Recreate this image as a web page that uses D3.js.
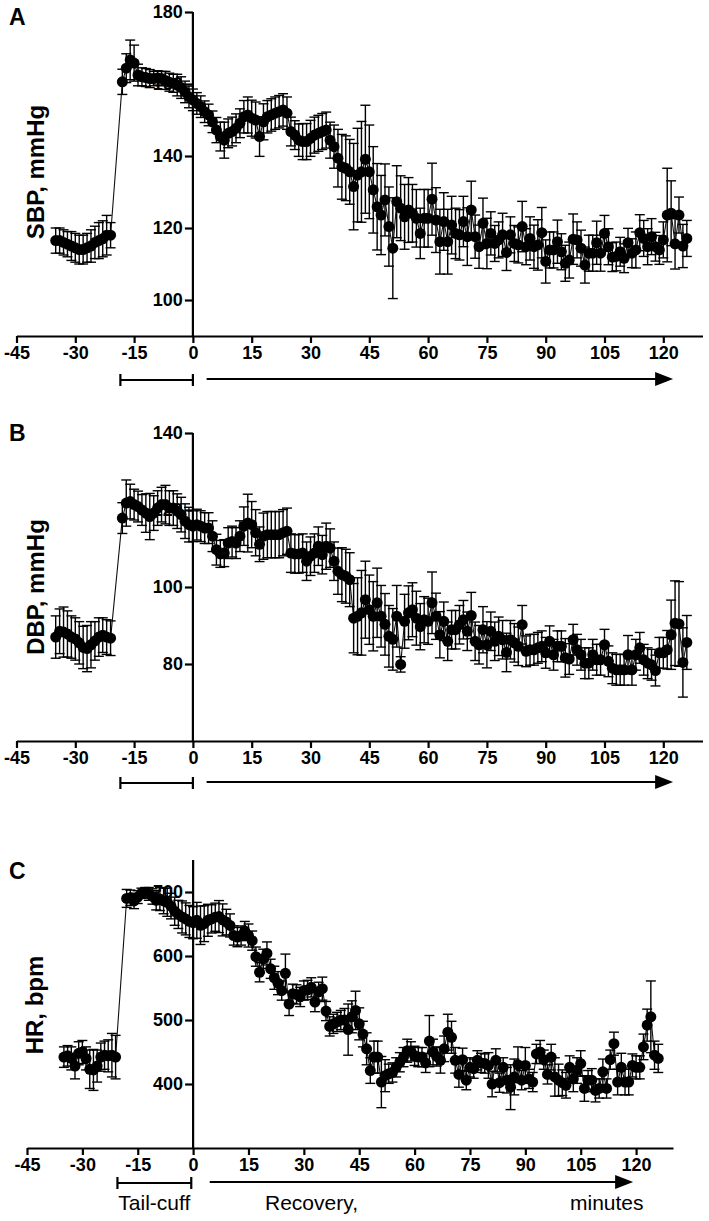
<!DOCTYPE html>
<html>
<head>
<meta charset="utf-8">
<script src="https://cdn.jsdelivr.net/npm/d3@7"></script>
<style>
  html, body { margin: 0; padding: 0; background: #ffffff; }
  svg { display: block; }
  text { font-family: "Liberation Sans", Arial, Helvetica, sans-serif; fill: #000; }
</style>
</head>
<body>
<svg id="chart" width="709" height="1221"></svg>
<script>
// ---------- time points (minutes) ----------
const baselineMinutes = d3.range(-35, -20);   // -35 .. -21
const tailCuffMinutes = d3.range(-18, 1);     // -18 .. 0
const recoveryMinutes = d3.range(1, 127);     // 1 .. 126
const xTickValues = [-45, -30, -15, 0, 15, 30, 45, 60, 75, 90, 105, 120];

// ---------- A: SBP, mmHg ----------
const sbpBaseline = [116.5,116.5,116,115.5,115,114.5,114,114,114.5,115,116,116.5,117,118,118];
const sbpTailCuff = [160.6,164.4,166.7,165.8,162.5,162,161.8,161.5,161.5,161.7,161.5,161,160.5,160.2,159.7,159,157.8,156.4,155.6];
const sbpRecovery = [
  154.6,153.7,152.3,151.4,149.5,147.2,145.4,144.4,146.3,146.8,
  147.7,149.1,150.9,151.4,150.5,150,145.4,149.5,150.9,151.4,
  151.9,152.3,152.8,151.9,146.8,145.8,144.4,144,144,144.9,
  145.8,146.3,146.8,147.2,144.4,142.6,139.4,137,136.6,135.6,
  131.5,134.7,135.6,139.1,135.6,130.6,125.9,123.6,127.8,120.4,
  114.4,127.3,125.5,123.1,125,124.1,122.7,118.5,122.7,122.7,
  128,122.2,116.2,121.8,116.2,120.8,118.5,118.1,121.8,117.6,
  125,117.6,114.8,121.3,115.7,118.5,115.7,116.7,118.1,113.2,
  118.1,115.7,115.3,120.4,114.8,117.1,114.8,115.3,118.7,110.7,
  113.9,113.9,116.2,113.4,110.2,111.1,116.9,116.7,114.4,109.7,
  113,113,115.9,113,118.5,114.8,111.9,112.1,113.4,111.6,
  115.9,113,113.9,118.7,117.1,114.8,117.6,114.8,113.9,116.7,
  123.6,124.1,115.6,123.6,115,117.1];
const sbpErrBaseline = [3.5,3.5,3.5,3.5,4,4,4,4,4,4.5,4.5,5,5,5.5,3.5];
const sbpErrTailCuff = [3.5,4,5.5,5,3,2.5,2.5,2.5,2,2,2,2.5,2.5,2.5,3,3,3,3,3];
const sbpErrRecovery = [
  3,3,3,3,3,3.5,4,5,4,4,
  4,4,4.5,5,5,5,5.5,5,4.5,4.5,
  4.5,4.5,4.5,4.5,4,4,4.5,5,5,5,
  5,5,5,5,5,6,8,9,9,9,
  12,13,14,15,13,12,12,11,10,11,
  14,10,9,9,9,8,8,7,8,8,
  10,9,9,8,9,8,7,7,7,8,
  8,6,6,7,7,6,5,5,6,5,
  5,5,5,7,5,6,6,7,7,6,
  5,5,6,5,5,5,7,5,5,5,
  5,5,6,5,5,5,4,4,4,4,
  4,4,5,5,5,5,5,4,4,5,
  13,9,7,5,6,5];

// ---------- B: DBP, mmHg ----------
const dbpBaseline = [87,88.5,88.3,87.8,87,86.5,85.5,84.3,84,85,86,87,87.5,87,86.7];
const dbpTailCuff = [117.9,121.8,122.2,121.4,120.9,120,119.2,118.3,119.2,120.5,121.4,121.4,120.5,120.5,119.7,118.8,117.1,116.2,115.8];
const dbpRecovery = [
  116.2,115.8,115.3,115.3,113.2,109.7,108.6,108.8,111.4,111.8,
  111.4,113.2,115.8,116.6,116.2,114.1,111.1,113.2,113.6,113.6,
  113.6,113.6,114.1,114.5,108.8,108.6,108.6,108.8,106.7,108,
  108.8,110.6,108.4,110.6,110.1,106.7,104.1,103.2,102.8,101.9,
  91.9,92.4,93.3,96.7,94.1,92.4,95.9,92.4,90.3,87.2,
  86.4,92.4,79.9,91.1,93.3,94.1,91.9,89.7,91.5,91.1,
  95.9,92.4,87.6,91.1,85.9,88.9,88.9,90.2,91.5,88.5,
  92.6,85.9,85,88.9,85,88.5,85.9,87.2,86.3,83,
  86.3,85.5,84.6,90.2,83.3,83.7,83.7,84.2,84.6,82.9,
  85.9,82.4,84.6,84.6,81.6,81.3,86.3,83.7,82.4,80.2,
  80.2,82.4,81.1,81.1,85,80.7,78.9,78.5,78.5,78.5,
  82.4,78.5,82.4,84.2,81.1,80.2,79.8,78.3,82.9,82.9,
  83.7,87.6,90.6,90.4,80.4,85.6];
const dbpErrBaseline = [5.5,5.8,6.5,6,5.5,5.5,5.5,5.5,6,6,5,5,4.5,4.5,4.5];
const dbpErrTailCuff = [4,6,4.5,4,4,4,5,6,4.5,4.5,4.5,5,4.5,4.5,4.5,4.5,4.5,4.5,4];
const dbpErrRecovery = [
  4,4,4,4,4,4,3.5,3.5,4,4,
  4,4,5,7.5,6,6,4.5,6,6,6,
  6,6,6,6,5,5,5,5,5,5,
  5,5,5,6,5,5,6,7,7,7,
  9,10,11,10,9,9,9,8,8,8,
  8,8,2,7,7,7,7,6,6,6,
  8,6,6,5,5,5,5,5,5,5,
  6,5,5,6,6,5,5,5,5,5,
  5,5,5,5,4,4,4,4,4,4,
  4,4,4,4,5,4,4,4,4,4,
  4,4,4,4,4,4,4,4,4,4,
  5,4,4,4,4,4,4,4,4,4,
  5,9,11,11,9,7];

// ---------- C: HR, bpm ----------
const hrBaseline = [442,444,440,428,448,450,440,423,422,428,442,445,444,445,442];
const hrTailCuff = [690,691,686,692,698,699,697,693,687,689,686,684,678,670,665,661,658,654,652];
const hrRecovery = [
  655.8,648,650.5,655.8,658,660.6,661.6,656.4,653,647.8,
  632,629.5,632,639,632,624,599,574.6,595.6,604,
  580,566,557.6,546,573,525,541,540,536,546,
  547,551,528,544,549,514,490,494,497,500,
  500,485,505,515,494,478,455,421,442,442,
  403,413,416,418,426,434,442,452,451,444,
  442,442,433,467,450,443,437,455,481,473,
  437,415,438,406,426,424,437,433,432,429,
  400,437,402,426,406,395,411,430,406,429,
  408,403,447,450,438,415,442,411,406,402,
  398,426,408,421,432,393,406,406,390,393,
  419,393,438,463,403,426,403,403,429,426,
  426,458,492,505,445,440];
const hrErrBaseline = [16,16,18,20,18,18,18,30,32,25,22,22,25,34,34];
const hrErrTailCuff = [14,12,12,10,8,8,10,12,15,18,20,22,20,22,22,25,25,25,25];
const hrErrRecovery = [
  28,30,28,25,22,22,25,25,20,18,
  15,15,15,15,18,15,15,15,15,18,
  15,18,18,15,30,18,15,15,15,15,
  15,15,15,15,18,15,15,15,15,15,
  18,40,25,30,25,20,25,20,25,25,
  40,25,15,15,15,15,15,18,15,15,
  15,15,15,40,20,15,20,20,28,25,
  20,20,18,15,15,15,15,15,15,20,
  20,18,15,15,20,35,28,28,15,28,
  15,15,15,18,15,15,20,30,25,20,
  20,18,20,20,20,20,15,18,18,15,
  20,15,15,18,20,22,20,20,18,18,
  18,20,25,56,22,22];

// ---------- tick labels / annotations ----------
const sbpTicks = [100, 120, 140, 160, 180];
const dbpTicks = [80, 100, 120, 140];
const hrTicks = [400, 500, 600, 700];
const phaseLabels = ["Tail-cuff", "Recovery,", "minutes"];

// ---------- helper ----------
function series(base, tail, rec, eb, et, er) {
  const t = baselineMinutes.concat(tailCuffMinutes, recoveryMinutes);
  const v = base.concat(tail, rec);
  const e = eb.concat(et, er);
  return t.map((m, i) => ({ t: m, v: v[i], e: e[i] }));
}

const panels = [
  { letter: "A", label: "SBP, mmHg", data: series(sbpBaseline, sbpTailCuff, sbpRecovery, sbpErrBaseline, sbpErrTailCuff, sbpErrRecovery),
    yDomain: [90, 180], yRange: [336, 12], yTop: 180, ticks: sbpTicks,
    xRange: [16.5, 702.5], letterPos: [9, 25], labelPos: [44, 172],
    bracketY: 380, tail: [-18.5, 0], arrow: [3.5, 122.5], showText: false },
  { letter: "B", label: "DBP, mmHg", data: series(dbpBaseline, dbpTailCuff, dbpRecovery, dbpErrBaseline, dbpErrTailCuff, dbpErrRecovery),
    yDomain: [60, 140], yRange: [741, 433], yTop: 140, ticks: dbpTicks,
    xRange: [16.5, 702.5], letterPos: [9, 441], labelPos: [44, 587],
    bracketY: 783, tail: [-18.5, 0], arrow: [3.5, 122.5], showText: false },
  { letter: "C", label: "HR, bpm", data: series(hrBaseline, hrTailCuff, hrRecovery, hrErrBaseline, hrErrTailCuff, hrErrRecovery),
    yDomain: [300, 750], yRange: [1148, 860], yTop: 750, ticks: hrTicks,
    xRange: [27, 673], letterPos: [9, 879], labelPos: [43, 1005],
    bracketY: 1183, tail: [-20.5, -0.5], arrow: [4.5, 119.2], showText: true }
];

const svg = d3.select("#chart");
svg.append("rect").attr("width", 709).attr("height", 1221).attr("fill", "#fff");
const FONT = "'Liberation Sans', Arial, sans-serif";

panels.forEach(p => {
  const x = d3.scaleLinear().domain([-45, 130]).range(p.xRange);
  const y = d3.scaleLinear().domain(p.yDomain).range(p.yRange);
  const g = svg.append("g");
  const x0 = x(0);
  const yBase = y(p.yDomain[0]);

  // panel letter
  g.append("text").attr("x", p.letterPos[0]).attr("y", p.letterPos[1])
    .attr("font-size", 23).attr("font-weight", "bold").text(p.letter);

  // y label
  g.append("text").attr("transform", `translate(${p.labelPos[0]},${p.labelPos[1]}) rotate(-90)`)
    .attr("text-anchor", "middle").attr("font-size", 24).attr("font-weight", "bold").text(p.label);

  // x axis
  const xAxis = d3.axisBottom(x).tickValues(xTickValues).tickFormat(d => String(d))
    .tickSize(7).tickPadding(3).tickSizeOuter(0);
  const xg = g.append("g").attr("transform", `translate(0,${yBase})`).call(xAxis);
  xg.select(".domain").attr("stroke", "#000").attr("stroke-width", 2.2);
  xg.selectAll(".tick line").attr("stroke", "#000").attr("stroke-width", 2.2);
  xg.selectAll(".tick text").attr("font-size", 18).attr("font-weight", "bold")
    .attr("font-family", FONT).attr("fill", "#000");

  // y axis at t = 0
  const ya = d3.axisLeft(y).tickValues(p.ticks).tickFormat(d => String(d))
    .tickSize(8).tickPadding(2).tickSizeOuter(0);
  const yg = g.append("g").attr("transform", `translate(${x0},0)`).call(ya);
  yg.select(".domain").remove();
  yg.append("line").attr("x1", 0).attr("x2", 0).attr("y1", yBase).attr("y2", y(p.yTop))
    .attr("stroke", "#000").attr("stroke-width", 2.2);
  yg.selectAll(".tick line").attr("stroke", "#000").attr("stroke-width", 2.2);
  yg.selectAll(".tick text").attr("font-size", 18).attr("font-weight", "bold")
    .attr("font-family", FONT).attr("fill", "#000");

  // connecting line
  const line = d3.line().x(d => x(d.t)).y(d => y(d.v));
  g.append("path").datum(p.data).attr("d", line).attr("fill", "none")
    .attr("stroke", "#111").attr("stroke-width", 1.1);

  // error bars
  const eg = g.append("g").attr("stroke", "#000").attr("stroke-width", 1.4);
  const cap = 5;
  p.data.forEach(d => {
    const cx = x(d.t), yt = y(d.v + d.e), yb = y(d.v - d.e);
    eg.append("line").attr("x1", cx).attr("x2", cx).attr("y1", yt).attr("y2", yb);
    eg.append("line").attr("x1", cx - cap).attr("x2", cx + cap).attr("y1", yt).attr("y2", yt);
    eg.append("line").attr("x1", cx - cap).attr("x2", cx + cap).attr("y1", yb).attr("y2", yb);
  });

  // points
  g.append("g").selectAll("circle").data(p.data).join("circle")
    .attr("cx", d => x(d.t)).attr("cy", d => y(d.v)).attr("r", 5.5).attr("fill", "#000");

  // tail-cuff bracket
  const by = p.bracketY;
  const bx1 = x(p.tail[0]), bx2 = x(p.tail[1]);
  const ag = g.append("g").attr("stroke", "#000").attr("stroke-width", 2.2);
  ag.append("line").attr("x1", bx1).attr("x2", bx2).attr("y1", by).attr("y2", by);
  ag.append("line").attr("x1", bx1).attr("x2", bx1).attr("y1", by - 6).attr("y2", by + 6);
  ag.append("line").attr("x1", bx2).attr("x2", bx2).attr("y1", by - 6).attr("y2", by + 6);

  // recovery arrow
  const ax1 = x(p.arrow[0]), ax2 = x(p.arrow[1]);
  ag.append("line").attr("x1", ax1).attr("x2", ax2 - 14).attr("y1", by - 1).attr("y2", by - 1);
  g.append("path").attr("d", `M${ax2},${by - 1} L${ax2 - 18},${by - 8} L${ax2 - 18},${by + 6} Z`).attr("fill", "#000");

  if (p.showText) {
    g.append("text").attr("x", (bx1 + bx2) / 2).attr("y", by + 27).attr("text-anchor", "middle")
      .attr("font-size", 21).text(phaseLabels[0]);
    g.append("text").attr("x", 265).attr("y", by + 27).attr("font-size", 21).text(phaseLabels[1]);
    g.append("text").attr("x", 570).attr("y", by + 27).attr("font-size", 21).text(phaseLabels[2]);
  }
});
</script>
</body>
</html>
